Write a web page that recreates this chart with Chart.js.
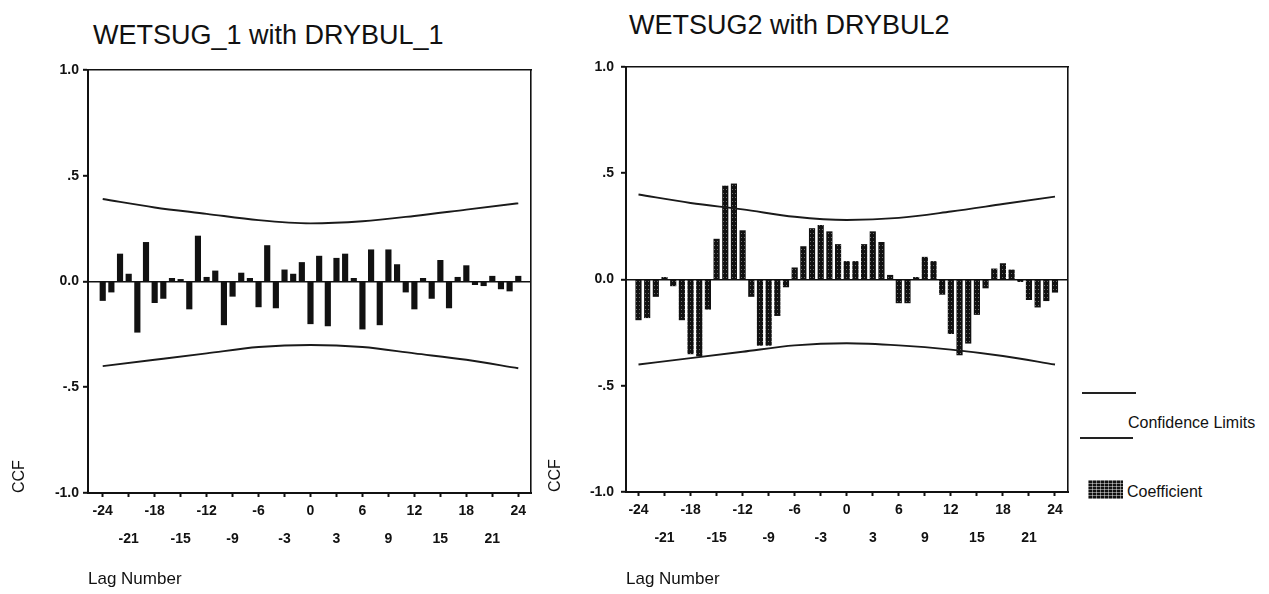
<!DOCTYPE html>
<html>
<head>
<meta charset="utf-8">
<script src="https://cdn.jsdelivr.net/npm/chart.js@4.4.1/dist/chart.umd.min.js"></script>
<style>
  html, body { margin: 0; padding: 0; background: #fff; }
  body { width: 1269px; height: 594px; position: relative; overflow: hidden;
         font-family: 'Liberation Sans', Arial, sans-serif; color: #111; }
  .abs { position: absolute; white-space: nowrap; }
</style>
</head>
<body>
<div class="abs" style="left:93px;top:22px;font-size:27px;line-height:27px;">WETSUG_1 with DRYBUL_1</div>
<div class="abs" style="left:629px;top:12px;font-size:27px;line-height:27px;">WETSUG2 with DRYBUL2</div>

<div class="abs" style="left:0;top:0;width:545px;height:594px;"><canvas id="c1"></canvas></div>
<div class="abs" style="left:545px;top:0;width:535px;height:594px;"><canvas id="c2"></canvas></div>

<!-- legend -->
<div class="abs" style="left:1082px;top:392px;width:54px;height:2px;background:#222;"></div>
<div class="abs" style="left:1128px;top:414px;font-size:16px;line-height:18px;">Confidence Limits</div>
<div class="abs" style="left:1080px;top:437px;width:53px;height:2px;background:#222;"></div>
<div class="abs" style="left:1088px;top:480px;width:35px;height:19px;background-color:#111;
  background-image:linear-gradient(90deg, rgba(255,255,255,0.45) 1px, transparent 1px),
                   linear-gradient(rgba(255,255,255,0.45) 1px, transparent 1px);
  background-size:4px 3px;"></div>
<div class="abs" style="left:1127px;top:483px;font-size:16px;line-height:18px;">Coefficient</div>

<script>
// ---- data ----
const lags = [-24,-23,-22,-21,-20,-19,-18,-17,-16,-15,-14,-13,-12,-11,-10,-9,-8,-7,-6,-5,-4,-3,-2,-1,
              0,1,2,3,4,5,6,7,8,9,10,11,12,13,14,15,16,17,18,19,20,21,22,23,24];

const ccfWet1Dry1 = [-0.09,-0.05,0.13,0.035,-0.24,0.185,-0.10,-0.08,0.015,0.01,-0.13,0.215,0.02,0.05,
                     -0.205,-0.07,0.04,0.015,-0.12,0.17,-0.125,0.055,0.035,0.09,
                     -0.20,0.12,-0.21,0.11,0.13,0.015,-0.225,0.15,-0.205,0.15,0.08,-0.05,-0.13,0.015,
                     -0.08,0.10,-0.125,0.02,0.075,-0.015,-0.02,0.025,-0.035,-0.045,0.025];

const ccfWet2Dry2 = [-0.19,-0.18,-0.08,0.01,-0.03,-0.19,-0.35,-0.36,-0.14,0.19,0.44,0.45,0.23,-0.08,
                     -0.31,-0.31,-0.17,-0.035,0.055,0.155,0.24,0.255,0.225,0.165,
                     0.085,0.085,0.165,0.225,0.175,0.02,-0.11,-0.11,0.01,0.105,0.085,-0.07,-0.255,-0.355,
                     -0.30,-0.165,-0.04,0.05,0.075,0.045,-0.01,-0.095,-0.13,-0.10,-0.06];

const limitLags  = [-24,-18,-12,-6,0,6,12,18,24];
const upper1 = [0.39,0.35,0.32,0.29,0.275,0.285,0.31,0.34,0.37];
const lower1 = [-0.40,-0.37,-0.34,-0.31,-0.30,-0.31,-0.34,-0.37,-0.41];
const upper2 = [0.40,0.36,0.33,0.295,0.28,0.29,0.32,0.355,0.39];
const lower2 = [-0.40,-0.37,-0.34,-0.31,-0.30,-0.31,-0.33,-0.36,-0.40];

const yTickValues = [-1,-0.5,0,0.5,1];
const yTickLabels = ['-1.0','-.5','0.0','.5','1.0'];
const xTickValues = [-24,-21,-18,-15,-12,-9,-6,-3,0,3,6,9,12,15,18,21,24];
const xTickLabels = ['-24','-21','-18','-15','-12','-9','-6','-3','0','3','6','9','12','15','18','21','24'];

const xAxisTitle = 'Lag Number';
const yAxisTitle = 'CCF';

// ---- drawing ----
const FONT = "'Liberation Sans', Arial, sans-serif";
const INK = '#111';

function dotPattern() {
  const c = document.createElement('canvas');
  c.width = 3; c.height = 4;
  const g = c.getContext('2d');
  g.fillStyle = '#111'; g.fillRect(0, 0, 3, 4);
  g.fillStyle = '#6e6e6e'; g.fillRect(1, 1, 1, 1);
  return g.createPattern(c, 'repeat');
}

function makeChart(id, values, upper, lower, geo, barFill) {
  const limitLine = (arr) => ({
    type: 'line',
    data: limitLags.map((x, i) => ({ x: x, y: arr[i] })),
    borderColor: '#1a1a1a', borderWidth: 1.9,
    pointRadius: 0, tension: 0.4, cubicInterpolationMode: 'monotone',
    fill: false, order: 0
  });
  return new Chart(document.getElementById(id), {
    type: 'bar',
    data: {
      datasets: [
        limitLine(upper),
        limitLine(lower),
        {
          type: 'bar',
          data: lags.map((x, i) => ({ x: x, y: values[i] })),
          backgroundColor: barFill, borderWidth: 0,
          barThickness: 5.5, order: 1
        }
      ]
    },
    options: {
      responsive: true, maintainAspectRatio: false, animation: false,
      layout: { padding: 0 },
      plugins: { legend: { display: false }, tooltip: { enabled: false }, title: { display: false } },
      scales: {
        x: {
          type: 'linear', position: 'bottom', min: geo.xMin, max: geo.xMax, offset: false,
          afterBuildTicks: s => { s.ticks = xTickValues.map(v => ({ value: v })); },
          afterFit: s => { s.height = geo.bottomH; },
          grid: { drawOnChartArea: false, drawTicks: true, tickLength: 4, tickColor: INK, tickWidth: 2, offset: false },
          border: { display: true, color: INK, width: 2 },
          ticks: {
            autoSkip: false, maxRotation: 0, minRotation: 0, padding: 0, color: INK,
            font: { family: FONT, size: 14, weight: 'bold', lineHeight: '28px' },
            callback: (v) => {
              const i = xTickValues.indexOf(v);
              if (i < 0) return '';
              return i % 2 === 1 ? ['', xTickLabels[i]] : xTickLabels[i];
            }
          },
          title: { display: true, text: xAxisTitle, align: 'start', color: INK,
                   font: { family: FONT, size: 17 }, padding: { top: 0, bottom: 4 } }
        },
        x2: {
          type: 'linear', position: 'top', min: geo.xMin, max: geo.xMax,
          afterFit: s => { s.height = geo.top; },
          grid: { drawOnChartArea: false, drawTicks: false },
          border: { display: true, color: INK, width: 1.6 },
          ticks: { display: false }
        },
        y: {
          type: 'linear', position: 'left', min: -1, max: 1,
          afterBuildTicks: s => { s.ticks = yTickValues.map(v => ({ value: v })); },
          afterFit: s => { s.width = geo.left; },
          grid: {
            drawOnChartArea: true, drawTicks: true, tickLength: 5, tickWidth: 2, tickColor: INK,
            color: c => (c.tick && c.tick.value === 0) ? INK : 'rgba(0,0,0,0)', lineWidth: 1.6
          },
          border: { display: true, color: INK, width: 2 },
          ticks: {
            padding: geo.yPad, color: INK, font: { family: FONT, size: 14, weight: 'bold' },
            callback: (v) => { const i = yTickValues.indexOf(v); return i < 0 ? '' : yTickLabels[i]; }
          },
          title: { display: true, text: yAxisTitle, align: 'start', color: INK,
                   font: { family: FONT, size: 16 }, padding: { top: geo.ccfPad, bottom: 0 } }
        },
        y2: {
          type: 'linear', position: 'right', min: -1, max: 1,
          afterFit: s => { s.width = geo.rightW; },
          grid: { drawOnChartArea: false, drawTicks: false },
          border: { display: true, color: INK, width: 1.6 },
          ticks: { display: false }
        }
      }
    }
  });
}

makeChart('c1', ccfWet1Dry1, upper1, lower1,
  { left: 88, rightW: 14, top: 70, bottomH: 101, xMin: -25.7, xMax: 25.47, yPad: 4, ccfPad: 10 },
  INK);
makeChart('c2', ccfWet2Dry2, upper2, lower2,
  { left: 81, rightW: 12, top: 67, bottomH: 102, xMin: -25.44, xMax: 25.5, yPad: 7, ccfPad: 1 },
  dotPattern());
</script>
</body>
</html>
